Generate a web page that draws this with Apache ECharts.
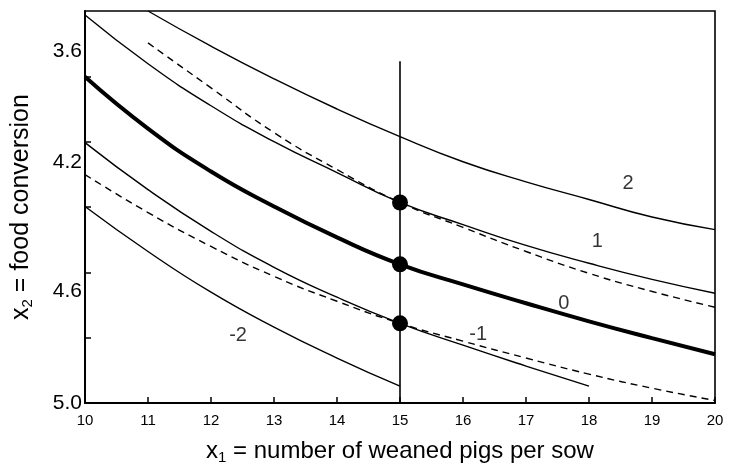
<!DOCTYPE html>
<html><head><meta charset="utf-8">
<script src="https://cdn.jsdelivr.net/npm/echarts@6/dist/echarts.min.js"></script>
<style>html,body{margin:0;padding:0;background:#fff}#c{width:731px;height:470px}</style>
</head><body><div id="c"></div>
<script>
// ---- data ----
const xTickLabels = ['10','11','12','13','14','15','16','17','18','19','20'];
const yTickLabels = ['3.6','4.2','4.6','5.0'];

// curve "2" (x = 11 .. 20)
const c2X = [11,12,13,14,15,16,17,18,19,20];
const c2Y = [3.44,3.58,3.71,3.83,3.94,4.04,4.12,4.19,4.26,4.31];
// curve "1" (x = 10 .. 20)
const c1X = [10,11,12,13,14,15,16,17,18,19,20];
const c1Y = [3.456,3.650,3.817,3.960,4.083,4.202,4.290,4.373,4.444,4.508,4.563];
// dashed companion of curve "1" (x = 11 .. 20)
const d1X = [11,12,13,14,15,16,17,18,19,20];
const d1Y = [3.567,3.746,3.924,4.071,4.202,4.301,4.397,4.484,4.556,4.619];
// curve "0" (x = 10 .. 20), bold
const c0X = [10,11,12,13,14,15,16,17,18,19,20];
const c0Y = [3.702,3.908,4.079,4.218,4.341,4.448,4.528,4.603,4.675,4.742,4.806];
// curve "-1" (x = 10 .. 18)
const cm1X = [10,11,12,13,14,15,16,17,18];
const cm1Y = [3.964,4.151,4.317,4.460,4.579,4.683,4.770,4.853,4.933];
// dashed companion of curve "-1" (x = 10 .. 20)
const dm1X = [10,11,12,13,14,15,16,17,18,19,20];
const dm1Y = [4.091,4.242,4.377,4.496,4.595,4.683,4.754,4.821,4.885,4.941,4.99];
// curve "-2" (x = 10 .. 15)
const cm2X = [10,11,12,13,14,15];
const cm2Y = [4.218,4.397,4.559,4.698,4.821,4.933];

// vertical reference line at x = 15 and the three marked points on it
const vLineX = [15,15];
const vLineY = [3.64,5.0];
const dotX = [15,15,15];
const dotY = [4.202,4.448,4.683];

// curve labels
const curveLabelText = ['2','1','0','-1','-2'];
const curveLabelX = [18.62,18.13,17.60,16.24,12.43];
const curveLabelY = [4.127,4.357,4.603,4.726,4.730];

// ---- layout (positions of the printed y labels / ticks on the axis) ----
const yLabelAt = [3.6,4.043,4.555,5.0];
const yTickAt = [3.70,3.96,4.22,4.48,4.74];

const zip = (xs, ys) => xs.map((x, i) => [x, ys[i]]);
const FONT = '"Liberation Sans", Arial, Helvetica, sans-serif';

const solid = (data, w) => ({
  type: 'line', data, smooth: 0.5, showSymbol: false, silent: true,
  lineStyle: { color: '#000', width: w }, z: 3
});
const dashed = (data) => ({
  type: 'line', data, smooth: 0.5, showSymbol: false, silent: true,
  lineStyle: { color: '#000', width: 1.4, type: [7, 5] }, z: 3
});

const chart = echarts.init(document.getElementById('c'), null, { renderer: 'canvas' });
chart.setOption({
  animation: false,
  backgroundColor: '#fff',
  textStyle: { fontFamily: FONT, color: '#000' },
  grid: { left: 85, right: 16, top: 11, bottom: 66, show: true, borderColor: '#000', borderWidth: 1.6 },
  xAxis: {
    type: 'value', min: 10, max: 20, interval: 1,
    axisLine: { show: true, lineStyle: { color: '#000', width: 2 } },
    axisTick: { show: true, inside: true, length: 6, lineStyle: { color: '#000', width: 1.5 } },
    axisLabel: { fontSize: 15, color: '#000', margin: 10, fontFamily: FONT,
      formatter: (v) => xTickLabels[Math.round(v - 10)] },
    splitLine: { show: false },
    name: '{a|x}{s|1}{a| = number of weaned pigs per sow}',
    nameLocation: 'middle', nameGap: 34,
    nameTextStyle: { rich: {
      a: { fontSize: 24, color: '#000', fontFamily: FONT, lineHeight: 28 },
      s: { fontSize: 15, color: '#000', fontFamily: FONT, verticalAlign: 'bottom', lineHeight: 28, padding: [10, 0, 0, 0] }
    } }
  },
  yAxis: {
    type: 'value', inverse: true, min: 3.44, max: 5.0,
    axisLine: { show: true, lineStyle: { color: '#000', width: 2 } },
    axisTick: { show: true, inside: true, length: 6, customValues: yTickAt, lineStyle: { color: '#000', width: 1.5 } },
    axisLabel: { fontSize: 21, color: '#000', margin: 3, fontFamily: FONT, customValues: yLabelAt,
      formatter: (v) => {
        let best = 0;
        yLabelAt.forEach((p, i) => { if (Math.abs(p - v) < Math.abs(yLabelAt[best] - v)) best = i; });
        return yTickLabels[best];
      } },
    splitLine: { show: false },
    name: '{a|x}{s|2}{a| = food conversion}',
    nameLocation: 'middle', nameGap: 50, nameRotate: 90,
    nameTextStyle: { rich: {
      a: { fontSize: 25, color: '#000', fontFamily: FONT, lineHeight: 28 },
      s: { fontSize: 15, color: '#000', fontFamily: FONT, verticalAlign: 'bottom', lineHeight: 28, padding: [10, 0, 0, 0] }
    } }
  },
  series: [
    solid(zip(c2X, c2Y), 1.4),
    solid(zip(c1X, c1Y), 1.4),
    dashed(zip(d1X, d1Y)),
    solid(zip(c0X, c0Y), 4),
    solid(zip(cm1X, cm1Y), 1.4),
    dashed(zip(dm1X, dm1Y)),
    solid(zip(cm2X, cm2Y), 1.4),
    { type: 'line', data: zip(vLineX, vLineY), showSymbol: false, silent: true,
      lineStyle: { color: '#000', width: 1.6 }, z: 4 },
    { type: 'scatter', data: zip(dotX, dotY), symbol: 'circle', symbolSize: 16, silent: true,
      itemStyle: { color: '#000', opacity: 1 }, z: 5 },
    { type: 'scatter', silent: true, symbolSize: 0, z: 6,
      data: curveLabelText.map((t, i) => ({ value: [curveLabelX[i], curveLabelY[i]], name: t })),
      label: { show: true, position: 'inside', formatter: (p) => p.name, fontSize: 20, color: '#000', fontFamily: FONT } }
  ]
});
</script></body></html>
